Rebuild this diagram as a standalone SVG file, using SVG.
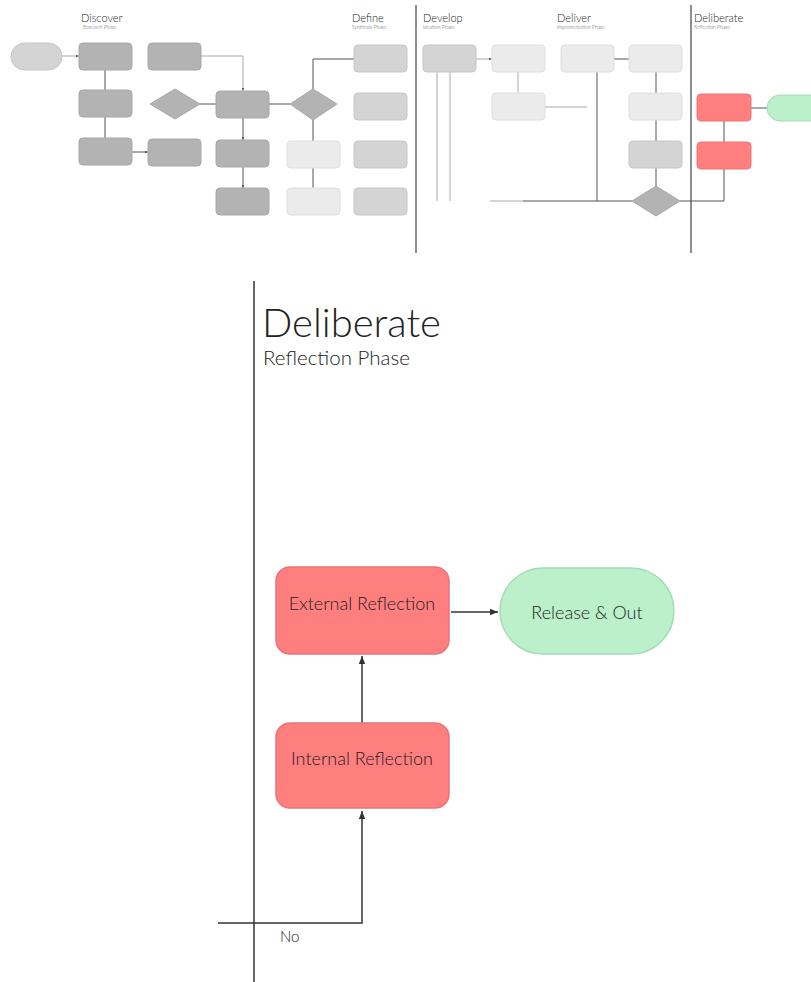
<svg xmlns="http://www.w3.org/2000/svg" width="811" height="982" viewBox="0 0 811 982">
<style>
text{font-family:Lato,"Open Sans","DejaVu Sans",sans-serif;fill:#222;font-weight:300}
.tt{font-size:11px}
.ts{font-size:5px;fill:#555}
.g1{fill:#b3b3b3;stroke:#a8a8a8;stroke-width:1}
.g2{fill:#d4d4d4;stroke:#c6c6c6;stroke-width:1}
.g3{fill:#ebebeb;stroke:#dedede;stroke-width:1}
.red{fill:#ff7f7f;stroke:#e87478;stroke-width:1.5}
.grn{fill:#bbf0ca;stroke:#a3dcb2;stroke-width:1.5}
.c{fill:none;stroke:#555;stroke-width:1}
.cl{fill:none;stroke:#aaa;stroke-width:1}
.sep{stroke:#444;stroke-width:1.2}
.m{fill:none;stroke:#333;stroke-width:1.5}
.lbl{font-size:18px;text-anchor:middle}
</style>
<defs>
<marker id="ah" viewBox="0 0 10 10" refX="10" refY="5" markerWidth="8" markerHeight="8" orient="auto" markerUnits="userSpaceOnUse"><path d="M0,1 L10,5 L0,9 z" fill="#333"/></marker>
<marker id="as" viewBox="0 0 10 10" refX="10" refY="5" markerWidth="3" markerHeight="3" orient="auto" markerUnits="userSpaceOnUse"><path d="M0,1 L10,5 L0,9 z" fill="#555"/></marker>
</defs>
<g id="overview">
<g id="titles">
<text class="tt" x="81" y="22">Discover</text><text class="ts" x="83" y="29">Research Phase</text>
<text class="tt" x="352" y="22">Define</text><text class="ts" x="352" y="29">Synthesis Phase</text>
<text class="tt" x="423" y="22">Develop</text><text class="ts" x="423" y="29">Ideation Phase</text>
<text class="tt" x="557" y="22">Deliver</text><text class="ts" x="557" y="29">Implementation Phase</text>
<text class="tt" x="694" y="22">Deliberate</text><text class="ts" x="694" y="29">Reflection Phase</text>
</g>
<g id="mini-connectors">
<line class="sep" x1="416" y1="5" x2="416" y2="253"/>
<line class="sep" x1="691" y1="5" x2="691" y2="253"/>
<path class="cl" d="M62,56 H79" marker-end="url(#as)"/>
<path class="c" d="M105,70 V90 M105,117 V138"/>
<path class="c" d="M132,152 H148" marker-end="url(#as)"/>
<path class="cl" d="M201,56 H243 V91" marker-end="url(#as)"/>
<path class="c" d="M200,104 H216"/>
<path class="c" d="M243,118 V140" marker-end="url(#as)"/>
<path class="c" d="M243,167 V188" marker-end="url(#as)"/>
<path class="c" d="M269,104 H290"/>
<path class="c" d="M313,89 V59 H354"/>
<path class="c" d="M313,120 V141 M313,168 V188"/>
<path class="cl" d="M476,59 H492" marker-end="url(#as)"/>
<path class="cl" d="M518,72 V93"/>
<path class="cl" d="M545,107 H587"/>
<path class="cl" d="M437,72 V201 M450,72 V201"/>
<path class="cl" d="M490,201 H523"/>
<path class="c" d="M523,201 H632"/>
<path class="c" d="M597,72 V201"/>
<path class="c" d="M614,59 H629"/>
<path class="c" d="M656,72 V93 M656,120 V141 M656,168 V186"/>
<path class="c" d="M680,201 H724 V169"/>
<path class="c" d="M724,121 V142"/>
<path class="c" d="M751,108 H767"/>
</g>
<g id="mini-nodes">
<rect class="g2" x="11" y="43" width="51" height="27" rx="13.5"/>
<rect class="g1" x="79" y="43" width="53" height="27" rx="4"/>
<rect class="g1" x="79" y="90" width="53" height="27" rx="4"/>
<rect class="g1" x="79" y="138" width="53" height="27" rx="4"/>
<rect class="g1" x="148" y="139" width="53" height="27" rx="4"/>
<rect class="g1" x="148" y="43" width="53" height="27" rx="4"/>
<path class="g1" d="M175,89 L200,104 L175,119 L150,104 z"/>
<rect class="g1" x="216" y="91" width="53" height="27" rx="4"/>
<rect class="g1" x="216" y="140" width="53" height="27" rx="4"/>
<rect class="g1" x="216" y="188" width="53" height="27" rx="4"/>
<path class="g1" d="M313,89 L337,104 L313,120 L290,104 z"/>
<rect class="g3" x="287" y="141" width="53" height="27" rx="4"/>
<rect class="g3" x="287" y="188" width="53" height="27" rx="4"/>
<rect class="g2" x="354" y="45" width="53" height="27" rx="4"/>
<rect class="g2" x="354" y="93" width="53" height="27" rx="4"/>
<rect class="g2" x="354" y="141" width="53" height="27" rx="4"/>
<rect class="g2" x="354" y="188" width="53" height="27" rx="4"/>
<rect class="g2" x="423" y="45" width="53" height="27" rx="4"/>
<rect class="g3" x="492" y="45" width="53" height="27" rx="4"/>
<rect class="g3" x="492" y="93" width="53" height="27" rx="4"/>
<rect class="g3" x="561" y="45" width="53" height="27" rx="4"/>
<rect class="g3" x="629" y="45" width="53" height="27" rx="4"/>
<rect class="g3" x="629" y="93" width="53" height="27" rx="4"/>
<rect class="g2" x="629" y="141" width="53" height="27" rx="4"/>
<path class="g1" d="M656,186 L680,201 L656,216 L632,201 z"/>
<rect class="red" x="697" y="94" width="54" height="27" rx="4" style="stroke-width:1"/>
<rect class="red" x="697" y="142" width="54" height="27" rx="4" style="stroke-width:1"/>
<rect class="grn" x="767" y="95" width="60" height="26" rx="13" style="stroke-width:1"/>
</g>
</g>
<g id="phase-header">
<line x1="254" y1="281" x2="254" y2="982" stroke="#333" stroke-width="1.5"/>
<text x="262" y="337" font-size="40">Deliberate</text>
<text x="263" y="365" font-size="20.5" fill="#333">Reflection Phase</text>
</g>
<g id="connectors">
<path class="m" d="M451,612 H498" marker-end="url(#ah)"/>
<path class="m" d="M362,723 V656" marker-end="url(#ah)"/>
<path class="m" d="M218,923 H362 V811" marker-end="url(#ah)"/>
<text x="280" y="942" font-size="15" fill="#333">No</text>
</g>
<g id="external-reflection">
<rect class="red" x="276" y="567" width="173" height="87" rx="14"/>
<text class="lbl" x="362" y="610">External Reflection</text>
</g>
<g id="release-out">
<rect class="grn" x="500" y="568" width="174" height="86" rx="43"/>
<text class="lbl" x="587" y="619">Release &amp; Out</text>
</g>
<g id="internal-reflection">
<rect class="red" x="276" y="723" width="173" height="85" rx="14"/>
<text class="lbl" x="362" y="765">Internal Reflection</text>
</g>
</svg>
